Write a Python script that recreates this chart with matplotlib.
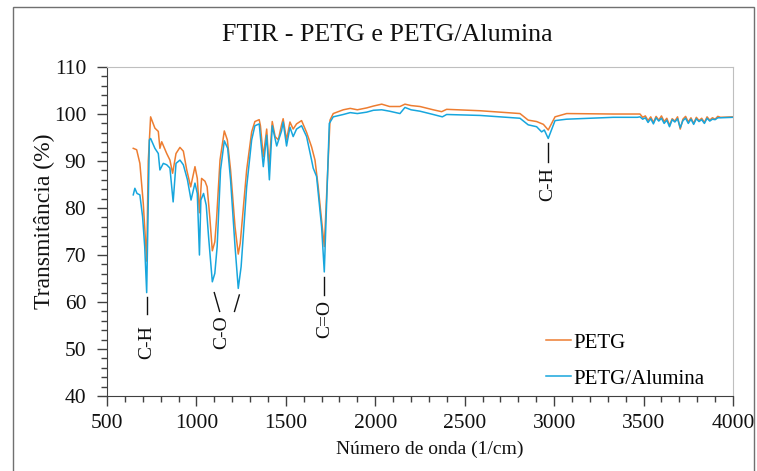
import numpy as np
import matplotlib.pyplot as plt
from matplotlib.patches import Rectangle
from matplotlib.ticker import MultipleLocator

plt.rcParams['font.family'] = ['Liberation Serif', 'DejaVu Serif']

# FTIR spectra (wavenumber in 1/cm, transmittance in %)
petg_wn = [647, 666, 684, 703, 714, 722, 731, 744, 768, 787, 796, 806, 834, 852, 867,
           886, 908, 927, 946, 968, 992, 1005, 1017, 1029, 1048, 1060, 1075, 1089, 1103,
           1113, 1132, 1156, 1173, 1191, 1216, 1234, 1245, 1281, 1309, 1327, 1351, 1358,
           1374, 1393, 1406, 1424, 1440, 1458, 1476, 1485, 1504, 1523, 1541, 1560, 1588,
           1616, 1644, 1663, 1681, 1694, 1715, 1747, 1765, 1821, 1860, 1900, 1952, 1990,
           2036, 2080, 2138, 2166, 2200, 2250, 2324, 2371, 2399, 2585, 2809, 2855, 2902,
           2940, 2967, 3005, 3070, 3331, 3465,
           3480, 3495, 3510, 3525, 3540, 3555, 3570, 3585, 3600, 3615, 3630, 3645, 3660,
           3675, 3690, 3705, 3720, 3735, 3750, 3765, 3780, 3795, 3810, 3825, 3840, 3855,
           3870, 3885, 3900, 3915, 3930, 4000]
petg_t = [92.7, 92.4, 89.5, 81.0, 74.0, 68.7, 90.0, 99.4, 97.0, 96.3, 92.7, 94.1, 91.6, 90.2, 87.4,
          91.6, 92.9, 92.1, 88.1, 84.5, 88.8, 86.3, 79.0, 86.3, 85.7, 84.5, 78.0, 70.9, 72.8,
          77.8, 90.2, 96.4, 94.5, 88.1, 76.0, 70.2, 72.5, 88.1, 96.2, 98.4, 98.8, 97.5,
          90.9, 96.8, 88.8, 98.4, 95.2, 94.5, 97.7, 99.0, 94.5, 98.3, 96.8, 97.9, 98.6,
          96.1, 93.0, 90.2, 84.5, 79.6, 71.8, 98.7, 100.1, 100.9, 101.2, 100.9, 101.3, 101.7,
          102.1, 101.6, 101.6, 102.1, 101.8, 101.6, 100.9, 100.5, 101.0, 100.7, 100.1, 98.7, 98.4,
          97.8, 96.6, 99.4, 100.1, 100.0, 100.0,
          100.0, 99.3, 99.6, 98.6, 99.4, 98.2, 99.5, 98.7, 99.6, 98.4, 99.1, 97.6, 99.0,
          98.5, 99.4, 96.8, 98.9, 99.5, 98.3, 99.2, 98.0, 99.3, 98.6, 99.1, 98.2, 99.4,
          98.7, 99.2, 98.9, 99.5, 99.3, 99.4]

alu_wn = [647, 656, 668, 684, 699, 711, 722, 737, 744, 768, 787, 796, 815, 834, 852, 870,
          886, 908, 927, 950, 970, 992, 1005, 1017, 1025, 1040, 1055, 1068, 1089, 1103,
          1116, 1135, 1156, 1175, 1191, 1216, 1234, 1250, 1281, 1309, 1327, 1351, 1374,
          1393, 1408, 1424, 1449, 1476, 1485, 1504, 1523, 1541, 1560, 1588, 1616, 1644,
          1653, 1672, 1685, 1700, 1715, 1743, 1765, 1821, 1860, 1900, 1952, 1990, 2036,
          2080, 2138, 2166, 2200, 2250, 2324, 2375, 2399, 2585, 2809, 2855, 2902, 2930,
          2945, 2967, 3005, 3070, 3331, 3465,
          3480, 3495, 3510, 3525, 3540, 3555, 3570, 3585, 3600, 3615, 3630, 3645, 3660,
          3675, 3690, 3705, 3720, 3735, 3750, 3765, 3780, 3795, 3810, 3825, 3840, 3855,
          3870, 3885, 3900, 3915, 3930, 4000]
alu_t = [82.8, 84.2, 83.1, 82.8, 78.2, 71.8, 62.0, 94.5, 94.8, 92.7, 91.6, 88.1, 89.5, 89.2, 88.5, 81.3,
         89.5, 90.2, 89.2, 86.0, 81.7, 85.3, 83.1, 70.0, 81.7, 83.1, 80.6, 73.9, 64.3, 66.1,
         71.8, 88.1, 94.3, 92.7, 86.0, 71.8, 62.9, 67.5, 84.5, 94.5, 97.5, 97.9, 88.8,
         95.5, 86.0, 97.5, 93.2, 96.4, 98.3, 93.2, 97.2, 95.2, 96.8, 97.5, 95.2, 90.2,
         88.5, 86.7, 81.7, 76.0, 66.4, 98.0, 99.4, 99.9, 100.3, 100.1, 100.4, 100.8, 100.9,
         100.6, 100.1, 101.4, 100.9, 100.6, 99.9, 99.4, 99.9, 99.7, 99.1, 97.7, 97.3, 96.2,
         96.6, 94.8, 98.6, 98.9, 99.3, 99.3,
         99.4, 98.9, 99.2, 98.2, 99.0, 97.9, 99.2, 98.5, 99.1, 98.0, 98.7, 97.3, 98.8,
         98.3, 99.0, 97.1, 98.6, 99.1, 98.0, 98.9, 97.8, 99.0, 98.4, 98.8, 98.0, 99.1,
         98.5, 98.9, 98.8, 99.2, 99.2, 99.3]

# band labels: (text, x of label, y of label, line segments [(x0, y0, x1, y1)])
bands = [
    ("C-H", 722, 51.5, [(722, 57.5, 722, 61.0)]),
    ("C-O", 1140, 53.5, [(1100, 62.0, 1130, 58.0), (1240, 61.5, 1213, 58.0)]),
    ("C=O", 1715, 56.3, [(1715, 61.5, 1715, 65.3)]),
    ("C-H", 2967, 85.2, [(2967, 89.8, 2967, 93.8)]),
]

orange = '#ED7D31'
blue = '#17A6DD'

fig = plt.figure(figsize=(7.57, 4.71), dpi=100)
ax = fig.add_axes([0.1413, 0.1592, 0.827, 0.6985])

ax.plot(petg_wn, petg_t, color=orange, lw=1.1, label='PETG')
ax.plot(alu_wn, alu_t, color=blue, lw=1.1, label='PETG/Alumina')

for text, tx, ty, segs in bands:
    ax.text(tx, ty, text, rotation=90, ha='center', va='center', fontsize=14, color='#111111')
    for x0, y0, x1, y1 in segs:
        ax.plot([x0, x1], [y0, y1], color='#111111', lw=1.0)

ax.set_xlim(500, 4000)
ax.set_ylim(40, 110)
ax.xaxis.set_major_locator(MultipleLocator(500))
ax.xaxis.set_minor_locator(MultipleLocator(100))
ax.yaxis.set_major_locator(MultipleLocator(10))
ax.yaxis.set_minor_locator(MultipleLocator(2))
ax.tick_params(which='major', direction='out', length=7, width=1, color='#404040',
               labelsize=15.5, labelcolor='#111111')
ax.tick_params(axis='x', which='major', pad=6)
ax.tick_params(axis='y', which='major', pad=8)
ax.tick_params(which='minor', direction='out', length=4, width=1, color='#404040')

for side in ['left', 'bottom']:
    ax.spines[side].set_color('#404040')
for side in ['top', 'right']:
    ax.spines[side].set_color('#BFBFBF')

ax.set_xlabel('Número de onda (1/cm)', fontsize=14, color='#111111')
ax.xaxis.set_label_coords(0.516, -0.137)
ax.set_ylabel('Transmitância (%)', fontsize=17, color='#111111')
ax.yaxis.set_label_coords(-0.083, 0.53)
fig.text(387 / 757, 1 - 35 / 471, 'FTIR - PETG e PETG/Alumina', fontsize=18.7,
         color='#111111', ha='center', va='center')

ax.legend(loc='lower right', frameon=False, fontsize=15, handlelength=1.2,
          handletextpad=0.15, labelspacing=0.8, bbox_to_anchor=(0.985, -0.035))

fig.patches.append(Rectangle((13 / 757, -0.05), 741 / 757, 1 - 7 / 471 + 0.05,
                             transform=fig.transFigure, fill=False,
                             edgecolor='#707070', lw=1.0))

fig.savefig('out.png', dpi=100)
